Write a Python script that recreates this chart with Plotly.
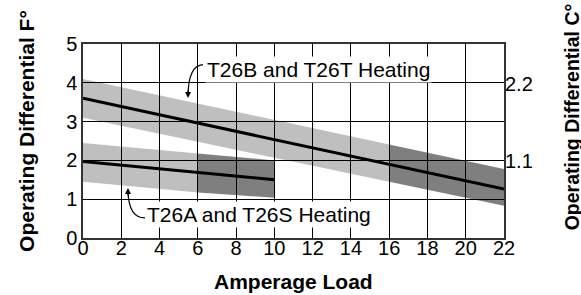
import plotly.graph_objects as go

# ---- data ----
amps_b = [0, 16, 22]                 # T26B / T26T: light band 0-16 A, dark band 16-22 A
b_upper = [4.10, 2.41, 1.78]
b_center = [3.60, 1.90, 1.26]
b_lower = [3.10, 1.45, 0.83]

amps_a = [0, 6, 10]                  # T26A / T26S: light band 0-6 A, dark band 6-10 A
a_upper = [2.45, 2.18, 2.00]
a_center = [1.97, 1.69, 1.50]
a_lower = [1.45, 1.17, 1.04]

x_ticks = list(range(0, 23, 2))
y_ticks_f = [0, 1, 2, 3, 4, 5]
y_ticks_c = [1.1, 2.2]

label_b = "T26B and T26T Heating"
label_a = "T26A and T26S Heating"

LIGHT = "rgba(0,0,0,0.25)"
DARK = "rgba(0,0,0,0.5)"
FONT = "Arial, Liberation Sans, sans-serif"

fig = go.Figure()


def band(xs, up, lo, i0, i1, color):
    px = xs[i0:i1 + 1] + xs[i0:i1 + 1][::-1]
    py = up[i0:i1 + 1] + lo[i0:i1 + 1][::-1]
    fig.add_trace(go.Scatter(x=px, y=py, fill="toself", fillcolor=color,
                             mode="lines", line=dict(width=0),
                             hoverinfo="skip", showlegend=False))


band(amps_b, b_upper, b_lower, 0, 1, LIGHT)
band(amps_b, b_upper, b_lower, 1, 2, DARK)
band(amps_a, a_upper, a_lower, 0, 1, LIGHT)
band(amps_a, a_upper, a_lower, 1, 2, DARK)

for xs, ys in [(amps_b, b_center), (amps_a, a_center)]:
    fig.add_trace(go.Scatter(x=xs, y=ys, mode="lines",
                             line=dict(color="black", width=3),
                             showlegend=False))

# invisible trace to activate the right-hand (C°) axis
fig.add_trace(go.Scatter(x=[0], y=[0], yaxis="y2", mode="markers",
                         marker=dict(opacity=0), showlegend=False,
                         hoverinfo="skip"))

# curved pointer lines
fig.add_shape(type="path", path="M 6.27 4.47 Q 5.50 4.45 5.49 3.66",
              line=dict(color="black", width=1.2))
fig.add_shape(type="path", path="M 3.24 0.52 Q 2.38 0.52 2.35 1.22",
              line=dict(color="black", width=1.2))

fig.update_layout(
    width=581, height=295,
    margin=dict(l=83, r=77, t=44, b=57),
    paper_bgcolor="white", plot_bgcolor="white",
    font=dict(family=FONT, size=20, color="black"),
    xaxis=dict(range=[0, 22], tickvals=x_ticks, showgrid=True,
               gridcolor="black", gridwidth=1, zeroline=False,
               showline=True, linecolor="#333", linewidth=1.5, mirror=True,
               ticks="", tickfont=dict(size=20), ticklabelstandoff=-9),
    yaxis=dict(range=[0, 5], tickvals=y_ticks_f, showgrid=True,
               gridcolor="black", gridwidth=1, zeroline=False,
               showline=True, linecolor="#333", linewidth=1.5, mirror=True,
               ticks="", tickfont=dict(size=20)),
    yaxis2=dict(range=[0, 5 * 5 / 9], overlaying="y", side="right",
                tickvals=y_ticks_c, tickformat=".1f", showgrid=False,
                zeroline=False, showline=False, ticks="",
                tickfont=dict(size=20)),
    annotations=[
        dict(text=label_b, x=6.38, y=4.34, xref="x", yref="y",
             xanchor="left", yanchor="middle", showarrow=False,
             bgcolor="white", borderpad=1, font=dict(size=21)),
        dict(text=label_a, x=3.24, y=0.615, xref="x", yref="y",
             xanchor="left", yanchor="middle", showarrow=False,
             bgcolor="white", borderpad=1, font=dict(size=21)),
        dict(text="", x=5.49, y=3.61, xref="x", yref="y", showarrow=True,
             ax=0, ay=-9, arrowhead=2, arrowsize=1, arrowwidth=1.2,
             arrowcolor="black"),
        dict(text="", x=2.35, y=1.29, xref="x", yref="y", showarrow=True,
             ax=0, ay=9, arrowhead=2, arrowsize=1, arrowwidth=1.2,
             arrowcolor="black"),
        dict(text="<b>Amperage Load</b>", x=0.5, y=-0.222, xref="paper",
             yref="paper", xanchor="center", yanchor="middle",
             showarrow=False, font=dict(size=21)),
        dict(text="<b>Operating Differential F°</b>", x=-0.133, y=0.552,
             xref="paper", yref="paper", xanchor="center", yanchor="middle",
             textangle=-90, showarrow=False, font=dict(size=21)),
        dict(text="<b>Operating Differential C°</b>", x=1.1625, y=0.624,
             xref="paper", yref="paper", xanchor="center", yanchor="middle",
             textangle=-90, showarrow=False, font=dict(size=19.5)),
    ],
)

fig.write_html("out.html", config={"displayModeBar": False},
               post_script="document.body.style.margin='0';"
                           "document.body.style.overflow='hidden';")
